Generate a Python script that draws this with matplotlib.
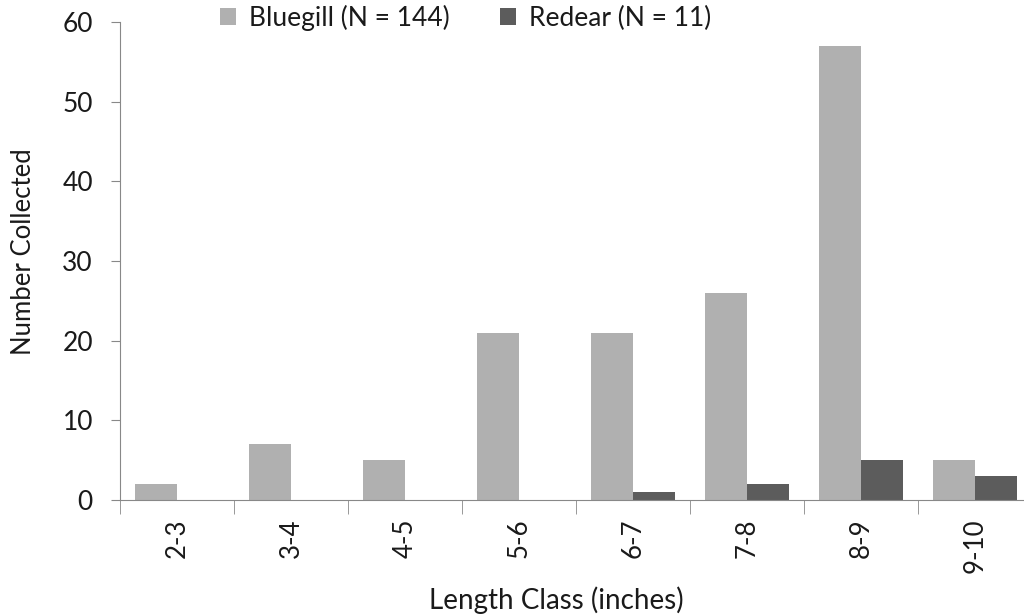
import matplotlib
matplotlib.use("Agg")
import matplotlib.pyplot as plt
import numpy as np

categories = ["2-3", "3-4", "4-5", "5-6", "6-7", "7-8", "8-9", "9-10"]
bluegill = [2, 7, 5, 21, 21, 26, 57, 5]
redear = [0, 0, 0, 0, 1, 2, 5, 3]

plt.rcParams['font.family'] = ['Lato', 'DejaVu Sans']

fig = plt.figure(figsize=(10.24, 6.16), dpi=100)
ax = fig.add_axes([120/1024, 1-500/616, 912/1024, 478/616])

x = np.arange(len(categories))
w = 42/114
ax.bar(x - w/2, bluegill, w, color="#B0B0B0", label="Bluegill (N = 144)")
ax.bar(x + w/2, redear, w, color="#5C5C5C", label="Redear (N = 11)")

ax.set_xlim(-0.5, len(categories) - 0.5)
ax.set_ylim(0, 60)
ax.set_yticks(range(0, 61, 10))
ax.set_xticks(x)
ax.set_xticklabels(categories, rotation=90, fontsize=18.5, color="#1a1a1a")
ax.set_xticks(np.arange(-0.5, len(categories) + 0.5, 1), minor=True)
ax.tick_params(axis='x', which='major', length=0, pad=13)
ax.tick_params(axis='x', which='minor', length=10, color="#888888", direction='out')
ax.tick_params(axis='y', labelsize=19, labelcolor="#1a1a1a", length=6.5, color="#888888", pad=13)

for s in ["top", "right"]:
    ax.spines[s].set_visible(False)
for s in ["left", "bottom"]:
    ax.spines[s].set_color("#888888")

ax.set_ylabel("Number Collected", fontsize=18.5, color="#1a1a1a", va="center")
ax.yaxis.set_label_coords(24/1024, 1 - 252/616, transform=fig.transFigure)
ax.set_xlabel("Length Class (inches)", fontsize=20, color="#1a1a1a", va="center")
ax.xaxis.set_label_coords(556/1024, 1 - 600/616, transform=fig.transFigure)

leg = ax.legend(loc="upper center", ncol=2, frameon=False, fontsize=19, handlelength=0.6, handleheight=0.6,
                handletextpad=0.5, columnspacing=1.9, borderaxespad=0, borderpad=0)
leg.set_bbox_to_anchor((466/1024, 1 - 5/616), transform=fig.transFigure)
for t in leg.get_texts():
    t.set_color("#1a1a1a")

fig.savefig("out.png", dpi=100)
